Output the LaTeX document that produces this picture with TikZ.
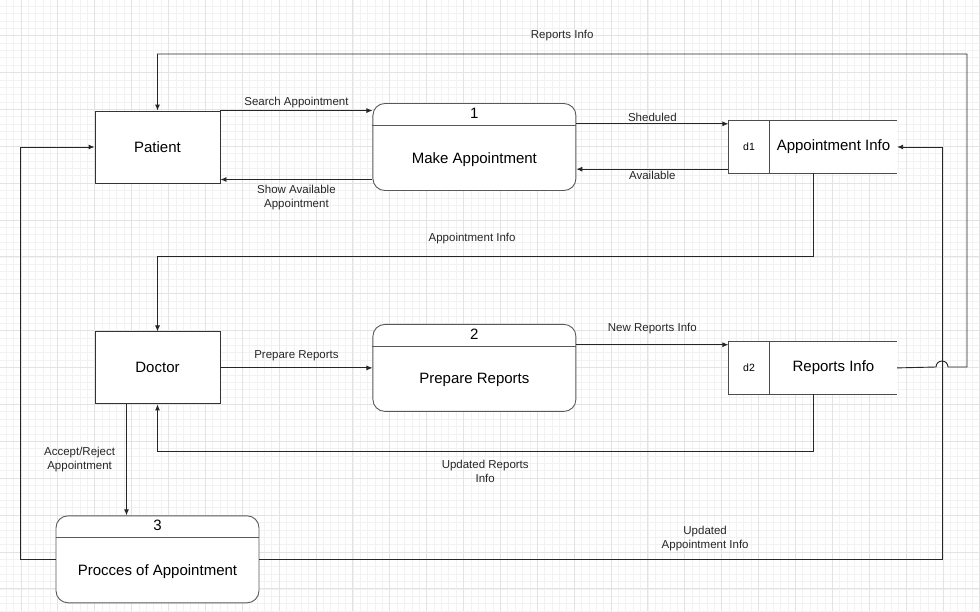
\documentclass[tikz,border=0pt]{standalone}
\usepackage{fontspec}
\setmainfont{Liberation Sans}
\usetikzlibrary{positioning,arrows.meta}

\begin{document}
\begin{tikzpicture}[x=1pt, y=-1pt, node distance=152pt,
  minorgrid/.style={black!5, line width=0.8pt},
  majorgrid/.style={black!11, line width=1pt},
  entity/.style={draw=black!80, fill=white, line width=0.9pt, minimum width=125pt, minimum height=72pt, font=\fontsize{15}{18}\selectfont},
  process/.style={draw=black!65, fill=white, line width=0.9pt, rounded corners=12pt, minimum width=203pt, minimum height=87pt, text height=32pt, text depth=0pt, font=\fontsize{15}{18}\selectfont},
  pnum/.style={inner sep=0pt, font=\fontsize{15}{18}\selectfont},
  storeid/.style={fill=white, minimum width=41pt, minimum height=52pt, inner sep=0pt, font=\fontsize{10.5}{12}\selectfont},
  store/.style={fill=white, minimum width=127pt, minimum height=52pt, inner sep=0pt, font=\fontsize{15}{18}\selectfont},
  storeline/.style={draw=black!70, line width=0.9pt},
  flow/.style={draw=black!85, line width=0.9pt, arrows=-{Latex[length=6pt, width=5pt]}},
  lbl/.style={inner sep=2pt, align=center, text=black!85, font=\fontsize{11.5}{14}\selectfont}]

% background and grid
\fill[white] (0,0) rectangle (980,611);
\useasboundingbox (0,0) rectangle (980,611);
\foreach \i in {0,...,132} \draw[minorgrid] (6.25+7.376*\i,0) -- (6.25+7.376*\i,611);
\foreach \j in {0,...,82} \draw[minorgrid] (0,6.2+7.376*\j) -- (980,6.2+7.376*\j);
\foreach \i in {0,...,26} \draw[majorgrid] (21+36.88*\i,0) -- (21+36.88*\i,611);
\foreach \j in {1,...,16} \draw[majorgrid] (0,-1.2+36.88*\j) -- (980,-1.2+36.88*\j);

% entities, processes, stores
\node (patient) [entity] at (157.5,147) {Patient};
\node (p1) [process, right=of patient] {Make Appointment};
\node (id1) [storeid, right=of p1] {d1};
\node (d1) [store, right=0pt of id1] {Appointment Info};
\node (doctor) [entity, below=148pt of patient] {Doctor};
\node (p2) [process, right=of doctor] {Prepare Reports};
\node (id2) [storeid, right=of p2] {d2};
\node (d2) [store, right=0pt of id2] {Reports Info};
\node (p3) [process, below=111pt of doctor] {Procces of Appointment};
\node (n1) [pnum, below=4.5pt of p1.north] {1};
\node (n2) [pnum, below=4.5pt of p2.north] {2};
\node (n3) [pnum, below=4.5pt of p3.north] {3};
\foreach \p in {p1,p2,p3}
  \draw[draw=black!65, line width=0.9pt] ([yshift=-22pt]\p.north west) -- ([yshift=-22pt]\p.north east);
\foreach \n/\s in {id1/d1, id2/d2}
  \draw[storeline] (\s.north east) -- (\n.north west) -- (\n.south west) -- (\s.south east)
    (\n.north east) -- (\n.south east);

\coordinate (jump) at (942,367);
\coordinate (rtop) at (967,54);
\coordinate (lft) at (20,147);

% flows
\draw[flow] (patient.north east) -- node[lbl, above] (lsearch) {Search Appointment} (patient.north east -| p1.west);
\draw[flow] ([yshift=-32.5pt]p1.west) -- node[lbl, below=3pt] (lshow) {Show Available\\Appointment} ([yshift=-32.5pt]p1.west -| patient.east);
\draw[flow] ([yshift=-3pt]id1.north west -| p1.east) -- node[lbl, above] (lshed) {Sheduled} ([yshift=-3pt]id1.north west);
\draw[flow] ([yshift=4pt]id1.south west) -- node[lbl, below] (lavail) {Available} ([yshift=4pt]id1.south west -| p1.east);
\draw[flow] ([xshift=-20.5pt]d1.south) |- node[lbl, pos=0.76, above=10pt] (lappt) {Appointment Info} ([yshift=75pt]doctor.north) -- (doctor.north);
\draw[flow] (doctor.east) -- node[lbl, above=5pt] (lprep) {Prepare Reports} (doctor.east -| p2.west);
\draw[flow] ([yshift=-3pt]id2.north west -| p2.east) -- node[lbl, above=8pt] (lnew) {New Reports Info} ([yshift=-3pt]id2.north west);
\draw[flow] ([xshift=-20.5pt]d2.south) |- node[lbl, pos=0.75, below=6pt] (lupdrep) {Updated Reports\\Info} ([yshift=-47pt]doctor.south) -- (doctor.south);
\draw[flow] ([xshift=-31pt]doctor.south) -- node[lbl, left=9pt] (lacc) {Accept/Reject\\Appointment} ([xshift=-31pt]doctor.south |- p3.north);
\draw[flow] (d2.east) -- ([xshift=-6pt]jump) arc[start angle=180, end angle=0, radius=6pt] -- (jump -| rtop) -- (rtop) -| node[lbl, pos=0.25, above=11pt] (lrep) {Reports Info} (patient.north);
\draw[flow] (p3.east) -- node[lbl, pos=0.653, above=6pt] (lupdappt) {Updated\\Appointment Info} (p3.east -| jump) |- (d1.east);
\draw[flow] (p3.west) -| (lft) -- (patient.west);
\end{tikzpicture}
\end{document}
